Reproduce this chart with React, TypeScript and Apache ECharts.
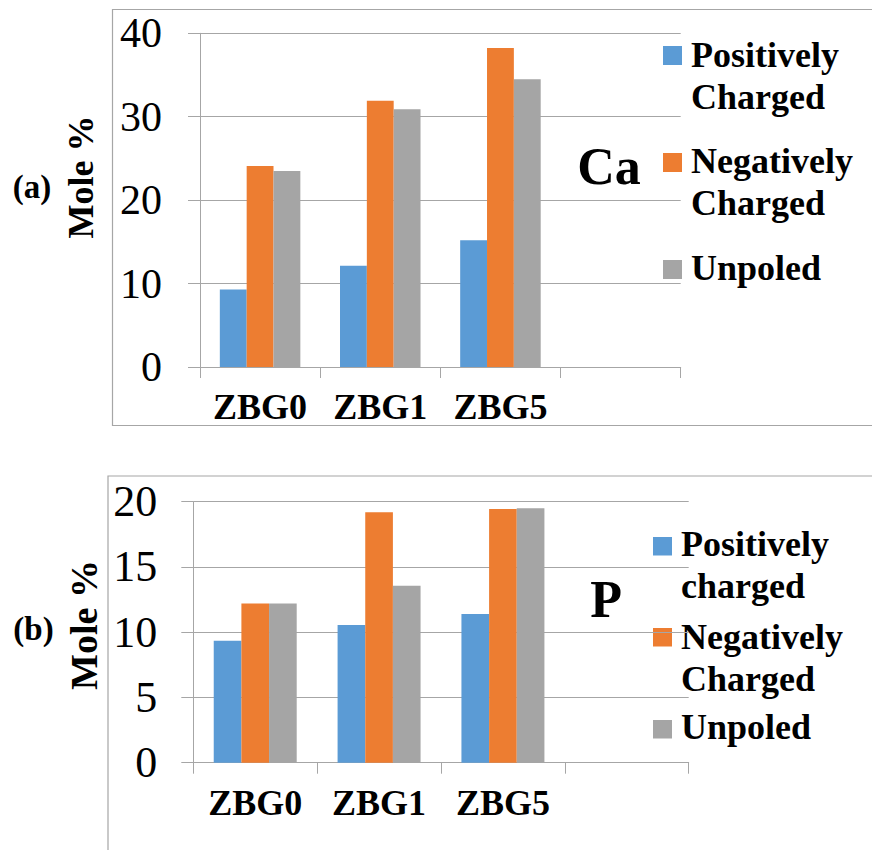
import { useEffect, useRef } from "react";
import * as echarts from "echarts";

// Sample categories (the fourth slot is left empty on purpose)
const categories = ["ZBG0", "ZBG1", "ZBG5", ""];

// Mole % of Ca
const caPositive = [9.3, 12.15, 15.2];
const caNegative = [24.1, 31.9, 38.25];
const caUnpoled = [23.5, 30.9, 34.5];

// Mole % of P
const pPositive = [9.35, 10.55, 11.4];
const pNegative = [12.2, 19.2, 19.45];
const pUnpoled = [12.2, 13.55, 19.5];

// Value axis ticks
const caTicks = [0, 10, 20, 30, 40];
const pTicks = [0, 5, 10, 15, 20];

const seriesNames = ["Positively Charged", "Negatively Charged", "Unpoled"];
const caLegendLabels = ["Positively\nCharged", "Negatively\nCharged", "Unpoled"];
const pLegendLabels = ["Positively\ncharged", "Negatively\nCharged", "Unpoled"];

const COLORS = ["#5B9BD5", "#ED7D31", "#A5A5A5"];
const LINE = "#A6A6A6";
const SERIF = "Liberation Serif, Times New Roman, serif";

function xAxisFor(gridIndex: number) {
  return {
    type: "category" as const,
    gridIndex,
    data: categories,
    boundaryGap: true,
    axisLine: { show: true, lineStyle: { color: LINE, width: 1 } },
    axisTick: { show: true, length: 11, lineStyle: { color: LINE, width: 1 } },
    axisLabel: {
      interval: 0,
      hideOverlap: false,
      fontFamily: SERIF,
      fontWeight: "bold" as const,
      fontSize: 36,
      color: "#000",
      margin: 22,
    },
    splitLine: { show: false },
  };
}

function yAxisFor(gridIndex: number, ticks: number[], fontSize: number, margin: number) {
  return {
    type: "value" as const,
    gridIndex,
    min: ticks[0],
    max: ticks[ticks.length - 1],
    interval: ticks[1] - ticks[0],
    axisLine: { show: true, lineStyle: { color: LINE, width: 1 } },
    axisTick: { show: true, length: 12, lineStyle: { color: LINE, width: 1 } },
    axisLabel: { fontFamily: SERIF, fontSize, color: "#000", margin },
    splitLine: { show: true, lineStyle: { color: LINE, width: 1 } },
  };
}

function barSeries(name: string, data: number[], idx: number, axisIndex: number) {
  return {
    type: "bar" as const,
    name,
    data,
    xAxisIndex: axisIndex,
    yAxisIndex: axisIndex,
    barGap: "0%",
    barCategoryGap: "33%",
    itemStyle: { color: COLORS[idx] },
  };
}

function legendBlock(labels: string[], markerX: number, textX: number, markerYs: number[], textYs: number[], markerH: number) {
  const out: any[] = [];
  labels.forEach((label, i) => {
    out.push({
      type: "rect",
      shape: { x: markerX, y: markerYs[i], width: 19, height: markerH },
      style: { fill: COLORS[i] },
    });
    out.push({
      type: "text",
      x: textX,
      y: textYs[i],
      style: {
        text: label,
        fontFamily: SERIF,
        fontWeight: "bold",
        fontSize: 36,
        fill: "#000",
        align: "left",
        verticalAlign: "top",
        lineHeight: 42,
      },
    });
  });
  return out;
}

function label(text: string, x: number, y: number, size: number, rotation = 0) {
  return {
    type: "text",
    x,
    y,
    rotation,
    style: {
      text,
      fontFamily: SERIF,
      fontWeight: "bold",
      fontSize: size,
      fill: "#000",
      align: "center",
      verticalAlign: "middle",
    },
  };
}

export default function App() {
  const ref = useRef<HTMLDivElement>(null);

  useEffect(() => {
    if (!ref.current) return;
    const chart = echarts.init(ref.current, undefined, { renderer: "svg" });

    const option = {
      animation: false,
      backgroundColor: "#fff",
      grid: [
        { left: 200, top: 33.3, width: 480.7, height: 333.7, containLabel: false },
        { left: 193.3, top: 501.7, width: 495.4, height: 261, containLabel: false },
      ],
      xAxis: [xAxisFor(0), xAxisFor(1)],
      yAxis: [yAxisFor(0, caTicks, 42, 38), yAxisFor(1, pTicks, 44, 36)],
      series: [
        barSeries(seriesNames[0], caPositive, 0, 0),
        barSeries(seriesNames[1], caNegative, 1, 0),
        barSeries(seriesNames[2], caUnpoled, 2, 0),
        barSeries(seriesNames[0], pPositive, 0, 1),
        barSeries(seriesNames[1], pNegative, 1, 1),
        barSeries(seriesNames[2], pUnpoled, 2, 1),
      ],
      graphic: [
        // chart frames
        {
          type: "rect",
          shape: { x: 112.5, y: 9.5, width: 800, height: 416 },
          style: { fill: "none", stroke: LINE, lineWidth: 1.2 },
        },
        {
          type: "rect",
          shape: { x: 108, y: 476, width: 800, height: 420 },
          style: { fill: "none", stroke: LINE, lineWidth: 1.2 },
        },
        // axis titles and panel tags
        label("Mole %", 81, 177, 36, Math.PI / 2),
        label("(a)", 32, 187, 33),
        label("Ca", 609, 166, 52),
        label("Mole %", 83.5, 625, 38, Math.PI / 2),
        label("(b)", 33.5, 629, 33),
        label("P", 606, 599, 52),
        // legends
        ...legendBlock(caLegendLabels, 663, 691, [46, 153, 260], [33.5, 140.2, 247.2], 19),
        ...legendBlock(pLegendLabels, 653, 681, [537, 628, 720], [522.9, 616.2, 706.2], 18.5),
      ],
    };

    chart.setOption(option as any);
    return () => chart.dispose();
  }, []);

  return (
    <div
      ref={ref}
      style={{ position: "absolute", left: 0, top: 0, width: 872, height: 850 }}
    />
  );
}
